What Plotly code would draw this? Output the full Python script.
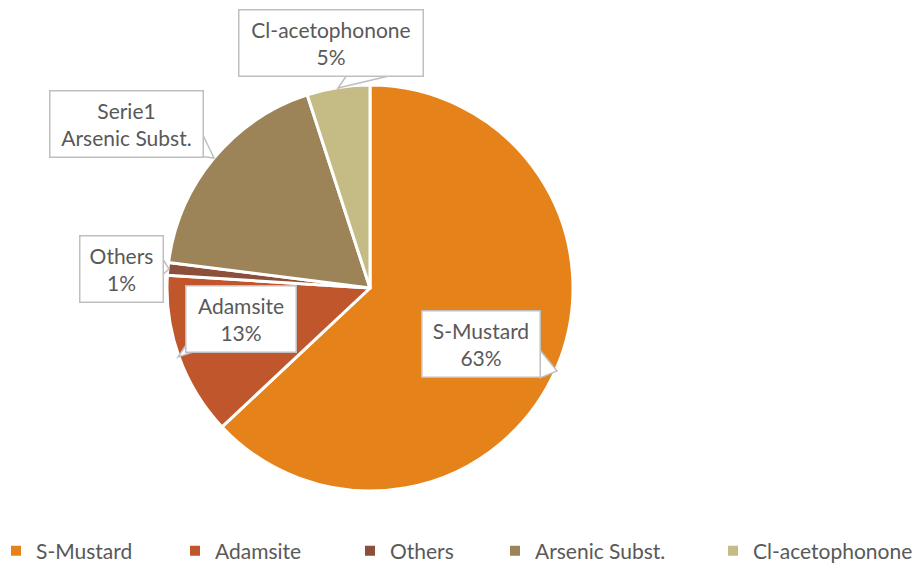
import plotly.graph_objects as go

# data
labels = ["S-Mustard", "Adamsite", "Others", "Arsenic Subst.", "Cl-acetophonone"]
values = [63, 13, 1, 18, 5]
colors = ["#E6821A", "#C0562C", "#8C4F3A", "#9C8458", "#C4BC84"]
box_texts = ["S-Mustard<br>63%", "Adamsite<br>13%", "Others<br>1%",
             "Serie1<br>Arsenic Subst.", "Cl-acetophonone<br>5%"]

# the page body has an 8px margin, so the figure is drawn 8px in from the corner
OFF = 8
W, H = 920 - 2 * OFF, 563 - OFF
FONT = "Lato, Carlito, Calibri, sans-serif"
GREY = "#595959"


def px(x, y):
    """window pixel -> paper coords"""
    return (x - OFF) / W, 1 - (y - OFF) / H


cx0, cy0, r0 = 370, 288, 203
x_lo, y_top = px(cx0 - r0, cy0 - r0)
x_hi, y_bot = px(cx0 + r0, cy0 + r0)

fig = go.Figure(go.Pie(
    labels=labels, values=values, sort=False, direction="clockwise", rotation=0,
    marker=dict(colors=colors, line=dict(color="white", width=3)),
    textinfo="none", hoverinfo="label+percent", showlegend=False,
    domain=dict(x=[x_lo, x_hi], y=[y_bot, y_top]),
))

# legend: one dummy entry per legend so the spacing follows the original
legend_marker_x = [18, 197, 372, 517, 735]
layout_legends = {}
for i, (name, col, mx) in enumerate(zip(labels, colors, legend_marker_x)):
    key = "legend" if i == 0 else f"legend{i + 1}"
    fig.add_trace(go.Scatter(
        x=[None], y=[None], mode="markers", name=name,
        marker=dict(symbol="square", size=10, color=col),
        legend=key, showlegend=True, hoverinfo="skip",
    ))
    lx, ly = px(mx - 22, 551)
    layout_legends[key] = dict(
        x=lx, xanchor="left", y=ly, yanchor="middle",
        font=dict(family=FONT, size=21, color=GREY), bgcolor="rgba(0,0,0,0)",
        itemwidth=30,
    )

# callout boxes: (center x, center y, width) in pixels and tail polygon
boxes = [
    (481, 344, 119, [(540, 350), (557, 371), (540, 378)]),
    (241, 319, 111, [(188, 342), (178, 357), (196, 351)]),
    (121, 269, 84, [(161, 256), (169, 269), (161, 276)]),
    (126, 124, 154, [(201, 131), (214, 158), (190, 155)]),
    (331, 43, 185, [(347, 75), (338, 88), (393, 75)]),
]

shapes = []
annotations = []
for (bx, by, bw, tail), txt in zip(boxes, box_texts):
    pts = [px(*p) for p in tail]
    path = "M " + " L ".join(f"{a},{b}" for a, b in pts) + " Z"
    shapes.append(dict(type="path", xref="paper", yref="paper", path=path,
                       fillcolor="white", line=dict(color="#BFBFBF", width=1.5),
                       layer="above"))
    x, y = px(bx, by)
    annotations.append(dict(
        x=x, y=y, xref="paper", yref="paper", xanchor="center", yanchor="middle",
        text=txt, showarrow=False,
        font=dict(family=FONT, size=21, color=GREY),
        bgcolor="white", bordercolor="#BFBFBF", borderwidth=1.5,
        width=bw - 4, height=63, align="center", valign="middle", borderpad=1,
    ))

fig.update_layout(
    width=W, height=H,
    margin=dict(l=0, r=0, t=0, b=0, autoexpand=False),
    paper_bgcolor="white", plot_bgcolor="white",
    xaxis=dict(visible=False), yaxis=dict(visible=False),
    shapes=shapes,
    annotations=annotations,
    showlegend=True,
    **layout_legends,
)

fig.write_html("out.html")
